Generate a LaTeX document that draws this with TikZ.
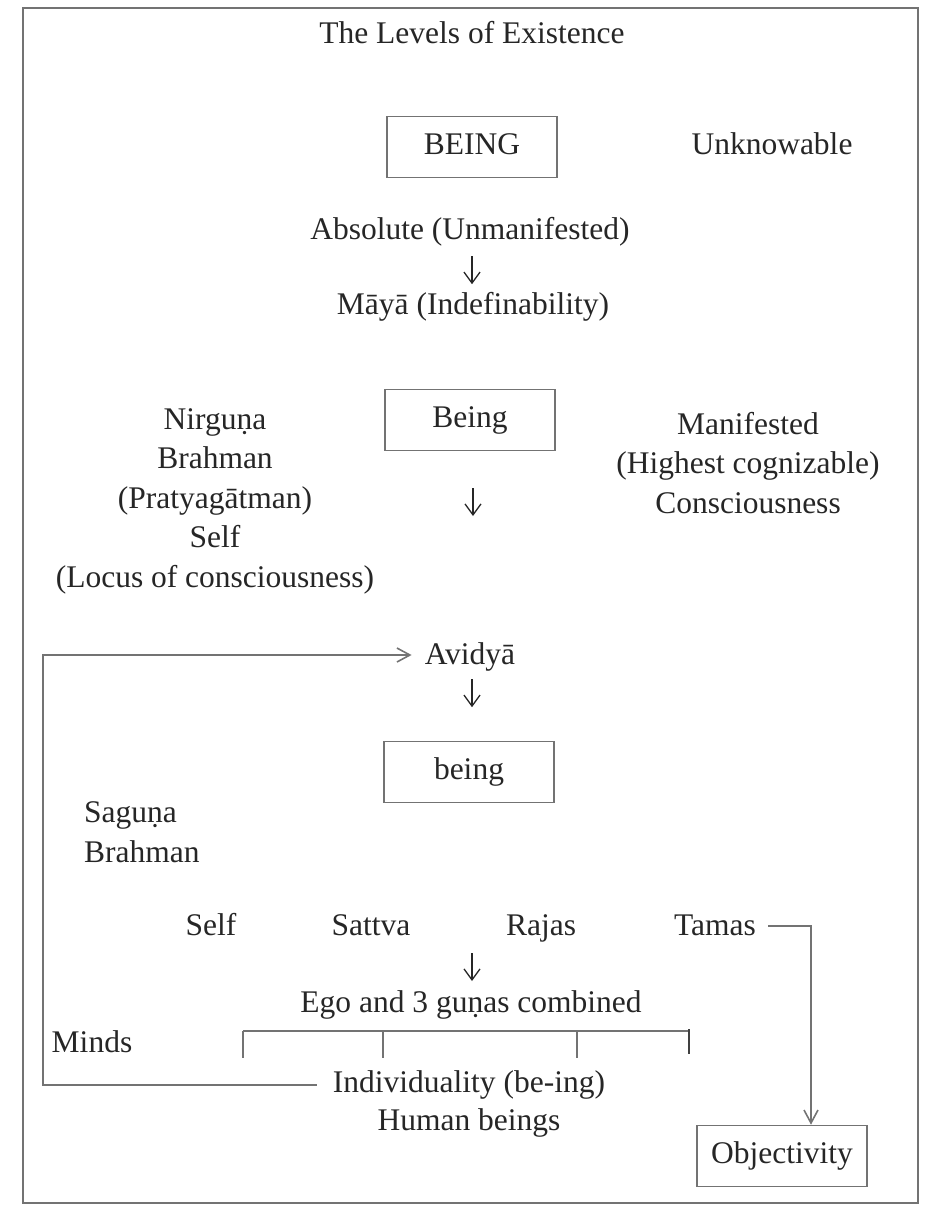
\documentclass[tikz,border=0pt]{standalone}
\usepackage{fontspec}
\setmainfont{Liberation Serif}
\usetikzlibrary{arrows.meta}
\begin{document}
\begin{tikzpicture}[x=1pt,y=-1pt,
  txt/.style={font=\fontsize{31.5}{39.5}\selectfont, text=black!85, inner sep=0pt, align=center},
  one/.style={txt, text height=21pt, text depth=7pt},
  lbox/.style={one, draw=black!55, line width=1.6pt, minimum width=170pt, minimum height=61pt},
  ln/.style={draw=black!55, line width=1.6pt},
  tip/.style={-{Straight Barb[length=13pt,width=14pt,line width=1.6pt]}},
  darr/.style={draw=black!85, line width=1.3pt, -{Straight Barb[length=11pt,width=16pt,line width=1.3pt]}}
]
\useasboundingbox (0,0) rectangle (928,1211);
% frame
\draw[ln] (23,8) rectangle (918,1203);
% title
\node[one] (title) at (472,36) {The Levels of Existence};
% top
\node[lbox] (BEING) at (472,147) {BEING};
\node[one] (unk) at (772,147) {Unknowable};
\node[one] (abs) at (470,232) {Absolute (Unmanifested)};
\node[one] (maya) at (473,307) {Māyā (Indefinability)};
\draw[darr] ([xshift=2pt]abs.south) ++(0,10) -- ++(0,28);
% middle
\node[lbox] (Being) at (470,420) {Being};
\node[txt] (nirguna) at (215,501) {Nirguṇa\\Brahman\\(Pratyagātman)\\Self\\(Locus of consciousness)};
\node[txt] (manif) at (748,463) {Manifested\\(Highest cognizable)\\Consciousness};
\coordinate (a2) at (473,488);
\draw[darr] (a2) -- ++(0,28);
\node[one] (avidya) at (470,657) {Avidyā};
\node[lbox] (being) at (469,772) {being};
\draw[darr] ([xshift=2pt]avidya.south) ++(0,8) -- ++(0,28);
\node[txt, anchor=west, align=left] (saguna) at (84,832) {Saguṇa\\Brahman};
% gunas row
\node[one] (self) at (211,928) {Self};
\node[one] (sattva) at (371,928) {Sattva};
\node[one] (rajas) at (541,928) {Rajas};
\node[one] (tamas) at (715,928) {Tamas};
\node[one] (ego) at (471,1005) {Ego and 3 guṇas combined};
\coordinate (a4) at (472,953);
\draw[darr] (a4) -- ++(0,28);
\node[one] (minds) at (92,1045) {Minds};
\node[one] (indiv) at (469,1085) {Individuality (be-ing)};
\node[one] (human) at (469,1123) {Human beings};
\node[lbox] (obj) at (782,1156) {Objectivity};
% bracket
\coordinate (b1) at (243,1031);
\coordinate (b2) at (383,1031);
\coordinate (b3) at (577,1031);
\coordinate (b4) at (689,1031);
\draw[ln] (b1) -- (b4);
\draw[ln] (b1) -- ++(0,27);
\draw[ln] (b2) -- ++(0,27);
\draw[ln] (b3) -- ++(0,27);
\draw[draw=black!75, line width=1.8pt] ([yshift=2pt]b4) -- ++(0,25);
% loop from individuality back to avidya
\coordinate (c1) at (43,1087);
\coordinate (c2) at (43,655);
\draw[ln, tip, shorten <=16pt, shorten >=13pt] (indiv.west) -- (indiv.west -| c1) -- (c2) -- (avidya.west |- c2);
% tamas to objectivity
\coordinate (t1) at (811,926);
\draw[ln, tip, shorten <=12pt] (tamas.east |- t1) -- (t1) -- (obj.north -| t1);
\end{tikzpicture}
\end{document}
